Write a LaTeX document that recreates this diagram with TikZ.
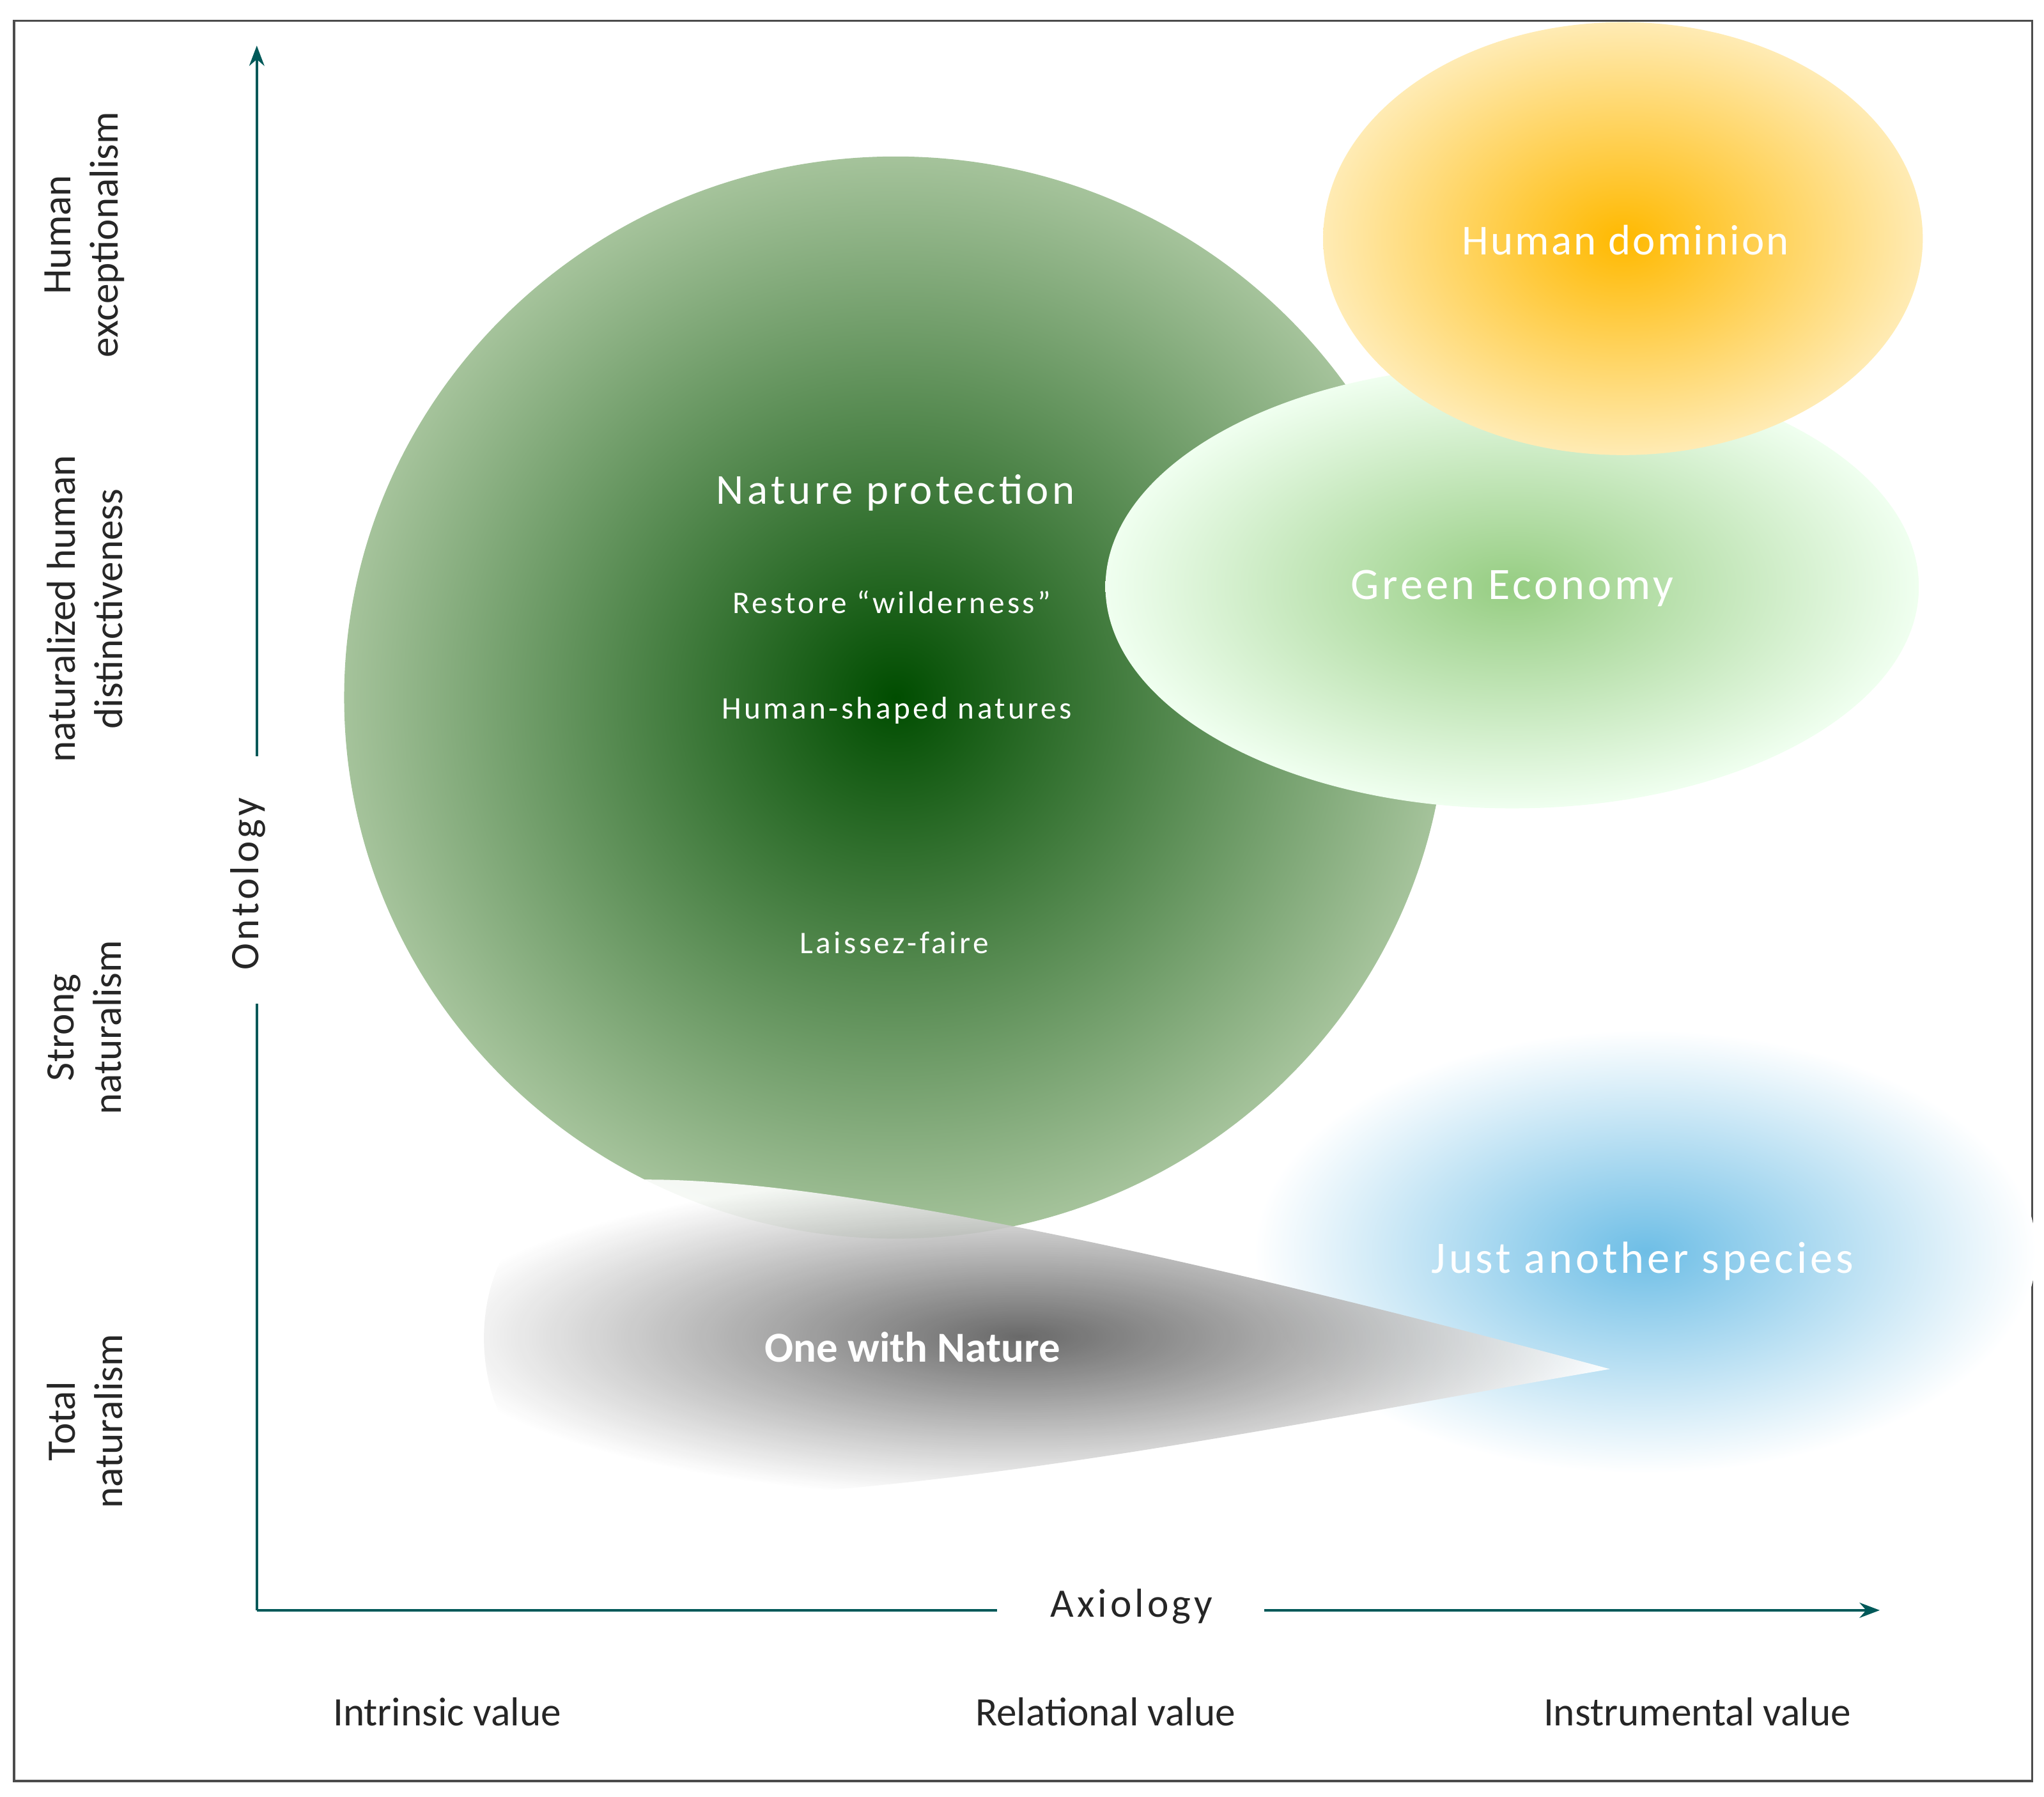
\documentclass[tikz,border=0pt]{standalone}
\usepackage{fontspec}
\setmainfont{Carlito}
\usetikzlibrary{arrows.meta,fadings}
\begin{document}
\begin{tikzpicture}[x=0.0204cm,y=-0.0204cm,
  ax/.style={draw=teal!70!black,line width=1.2pt},
  wt/.style={text=white,font=\fontsize{17}{20}\selectfont\addfontfeatures{LetterSpace=6}},
  lab/.style={text=black!85,font=\fontsize{18}{21}\selectfont,align=center}]
\useasboundingbox (0,0) rectangle (1568,1378);
\node[draw=black!70,line width=1pt,minimum width=1548*0.0204cm,minimum height=1350*0.0204cm,anchor=north west] (frame) at (10,15) {};
% green circle
\shade[inner color=green!30!black,outer color={rgb,255:red,165;green,195;blue,155}] (687,535) ellipse [x radius=423,y radius=415];
% blue
\shade[inner color={rgb,255:red,110;green,190;blue,230},outer color=white] (1262,960) ellipse [x radius=300,y radius=170];
% gray
\shade[inner color=black!65,outer color=white,opacity=0.9] (1235,1050) .. controls (900,960) and (620,900) .. (480,905) .. controls (330,910) and (340,1150) .. (480,1150) .. controls (720,1150) and (1000,1090) .. (1235,1050) -- cycle;
% light green
\shade[inner color={rgb,255:red,150;green,205;blue,130},outer color=green!6!white] (1160,450) ellipse [x radius=312,y radius=170];
% yellow
\shade[inner color={rgb,255:red,255;green,185;blue,0},outer color={rgb,255:red,255;green,235;blue,180}] (1245,183) ellipse [x radius=230,y radius=166];
% axes
\coordinate (o) at (197,1235);
\coordinate (yt) at (197,35);
\coordinate (xr) at (1442,1235);
\node[lab,rotate=90,font=\fontsize{18}{20}\selectfont\addfontfeatures{LetterSpace=8}] (ont) at (190,678) {Ontology};
\node[lab,font=\fontsize{18}{20}\selectfont\addfontfeatures{LetterSpace=8}] (axi) at (868,1232) {Axiology};
\draw[ax] (o) -- (197,770);
\draw[ax,-{Stealth[length=9pt]}] (197,580) -- (yt);
\draw[ax] (o) -- (765,1235);
\draw[ax,-{Stealth[length=9pt]}] (970,1235) -- (xr);
% labels
\node[lab] (iv) at (343,1313) {Intrinsic value};
\node[lab] (rv) at (848,1313) {Relational value};
\node[lab] (inv) at (1302,1313) {Instrumental value};
\node[lab,rotate=90] (l1) at (65,180) {Human\\exceptionalism};
\node[lab,rotate=90] (l2) at (65,467) {naturalized human\\distinctiveness};
\node[lab,rotate=90] (l3) at (65,788) {Strong\\naturalism};
\node[lab,rotate=90] (l4) at (65,1090) {Total\\naturalism};
\node[wt,font=\fontsize{19}{20}\selectfont\addfontfeatures{LetterSpace=8}] (np) at (687,378) {Nature protection};
\node[wt,font=\fontsize{14}{16}\selectfont\addfontfeatures{LetterSpace=9}] (rw) at (684,462) {Restore “wilderness”};
\node[wt,font=\fontsize{14}{16}\selectfont\addfontfeatures{LetterSpace=9}] (hs) at (688,545) {Human-shaped natures};
\node[wt,font=\fontsize{14}{16}\selectfont\addfontfeatures{LetterSpace=9}] (lf) at (686,723) {Laissez-faire};
\node[wt,font=\fontsize{20}{22}\selectfont\addfontfeatures{LetterSpace=7}] (ge) at (1160,451) {Green Economy};
\node[wt,font=\fontsize{19}{22}\selectfont\addfontfeatures{LetterSpace=5}] (hd) at (1247,184) {Human dominion};
\node[wt,font=\fontsize{20}{22}\selectfont\addfontfeatures{LetterSpace=7}] (js) at (1260,967) {Just another species};
\node[wt,font=\fontsize{19}{22}\selectfont\bfseries] (on) at (700,1033) {One with Nature};
\end{tikzpicture}
\end{document}
